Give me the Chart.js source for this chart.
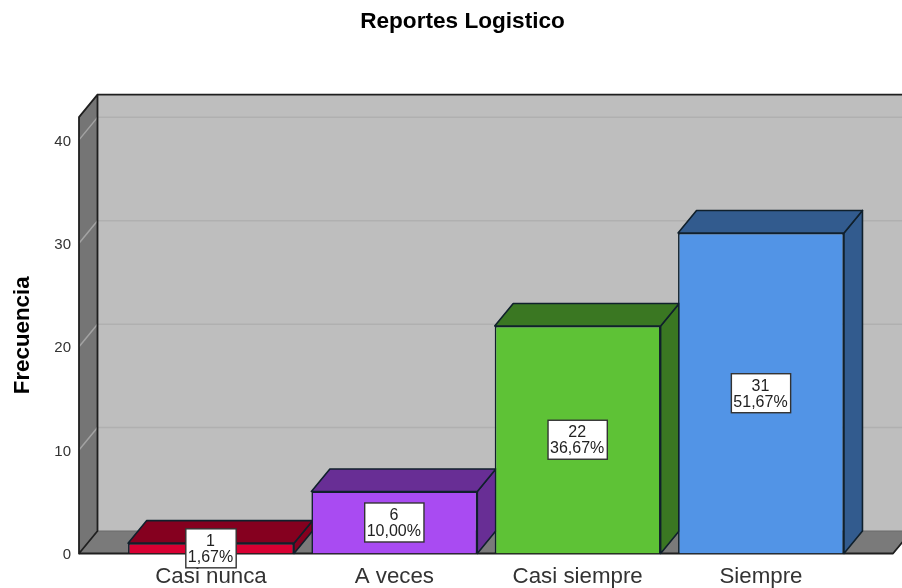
<!DOCTYPE html>
<html>
<head>
<meta charset="utf-8">
<style>
  html, body { margin: 0; padding: 0; background: #fff; }
  #wrap { position: relative; width: 902px; height: 588px; overflow: hidden; }
</style>
<script src="https://cdn.jsdelivr.net/npm/chart.js@4"></script>
</head>
<body>
<div id="wrap"><canvas id="myChart" width="902" height="588"></canvas></div>
<script>
const chartTitle = "Reportes Logistico";
const yAxisTitle = "Frecuencia";
const categories = ["Casi nunca", "A veces", "Casi siempre", "Siempre"];
const counts = [1, 6, 22, 31];
const percents = ["1,67%", "10,00%", "36,67%", "51,67%"];
const yTicks = [0, 10, 20, 30, 40];
const frontColors = ["#d80032", "#a94bf2", "#5ec236", "#5294e6"];
const darkColors = ["#85001f", "#682e95", "#3a7722", "#325b8e"];

const fontName = "'Liberation Sans', Arial, sans-serif";

// how far the back wall sits behind the front of the box
const depthX = 18.5;
const depthY = 22.5;

function poly(ctx, pts, fill, stroke, width) {
  ctx.beginPath();
  pts.forEach((p, i) => (i ? ctx.lineTo(p[0], p[1]) : ctx.moveTo(p[0], p[1])));
  ctx.closePath();
  if (fill) {
    ctx.fillStyle = fill;
    ctx.fill();
  }
  if (stroke) {
    ctx.strokeStyle = stroke;
    ctx.lineWidth = width || 1.5;
    ctx.stroke();
  }
}

const box3d = {
  id: "box3d",
  // the reference title sits right of the canvas centre
  afterLayout(chart) {
    chart.titleBlock.left += 16;
    chart.titleBlock.right += 16;
  },
  // walls, floor and the top and side of each bar go under the fronts
  beforeDatasetsDraw(chart) {
    const ctx = chart.ctx;
    const y = chart.scales.y;
    const a = chart.chartArea;
    const line = "#1f1f1f";
    ctx.save();
    ctx.lineJoin = "round";
    poly(ctx, [[a.left + depthX, a.top - depthY], [a.right + depthX, a.top - depthY], [a.right + depthX, a.bottom - depthY], [a.left + depthX, a.bottom - depthY]], "#bebebe");
    poly(ctx, [[a.left, a.bottom], [a.left + depthX, a.bottom - depthY], [a.right + depthX, a.bottom - depthY], [a.right, a.bottom]], "#7a7a7a", "#6a6a6a", 1);
    poly(ctx, [[a.left, a.top], [a.left + depthX, a.top - depthY], [a.left + depthX, a.bottom - depthY], [a.left, a.bottom]], "#757575");
    yTicks.slice(1).forEach((t) => {
      const py = y.getPixelForValue(t);
      ctx.lineWidth = 1.5;
      ctx.beginPath();
      ctx.moveTo(a.left, py);
      ctx.lineTo(a.left + depthX, py - depthY);
      ctx.strokeStyle = "#a3a3a3";
      ctx.stroke();
      ctx.beginPath();
      ctx.moveTo(a.left + depthX, py - depthY);
      ctx.lineTo(a.right + depthX, py - depthY);
      ctx.strokeStyle = "#b0b0b0";
      ctx.stroke();
    });
    ctx.beginPath();
    ctx.moveTo(a.left, a.bottom);
    ctx.lineTo(a.left + depthX, a.bottom - depthY);
    ctx.strokeStyle = "#a3a3a3";
    ctx.lineWidth = 1;
    ctx.stroke();
    poly(ctx, [[a.left, a.top], [a.left + depthX, a.top - depthY], [a.left + depthX, a.bottom - depthY], [a.left, a.bottom]], null, line, 1.8);
    ctx.beginPath();
    ctx.moveTo(a.left + depthX, a.top - depthY);
    ctx.lineTo(a.right + depthX, a.top - depthY);
    ctx.strokeStyle = line;
    ctx.lineWidth = 1.8;
    ctx.stroke();
    ctx.beginPath();
    ctx.moveTo(a.left, a.bottom);
    ctx.lineTo(a.right, a.bottom);
    ctx.lineTo(a.right + depthX, a.bottom - depthY);
    ctx.stroke();
    chart.getDatasetMeta(0).data.forEach((bar, i) => {
      const half = bar.width / 2;
      const l = bar.x - half;
      const r = bar.x + half;
      const t = bar.y;
      const b = bar.base;
      poly(ctx, [[r, t], [r + depthX, t - depthY], [r + depthX, b - depthY], [r, b]], darkColors[i], "#10202c", 1.6);
      poly(ctx, [[l, t], [l + depthX, t - depthY], [r + depthX, t - depthY], [r, t]], darkColors[i], "#10202c", 1.6);
    });
    ctx.restore();
  },
  // white count boxes in the middle of the fronts
  afterDatasetsDraw(chart) {
    const ctx = chart.ctx;
    ctx.save();
    ctx.font = "16px " + fontName;
    ctx.textAlign = "center";
    ctx.textBaseline = "middle";
    chart.getDatasetMeta(0).data.forEach((bar, i) => {
      const mid = (bar.y + bar.base) / 2;
      const w = ctx.measureText(percents[i]).width + 5;
      ctx.fillStyle = "#fff";
      ctx.fillRect(bar.x - w / 2, mid - 19.5, w, 39);
      ctx.strokeStyle = "#333";
      ctx.lineWidth = 1.4;
      ctx.strokeRect(bar.x - w / 2, mid - 19.5, w, 39);
      ctx.fillStyle = "#222";
      ctx.fillText(String(counts[i]), bar.x - 0.5, mid - 7);
      ctx.fillText(percents[i], bar.x - 0.5, mid + 9);
    });
    ctx.restore();
  },
};

const myChart = document.getElementById("myChart").getContext("2d");
const myGraph = new Chart(myChart, {
  type: "bar",
  plugins: [box3d],
  data: {
    datasets: [
      {
        data: counts.map((c, i) => ({ x: i, y: c })),
        backgroundColor: frontColors,
        borderColor: "#10202c",
        borderWidth: 1.6,
        barPercentage: 0.905,
        categoryPercentage: 1,
      },
    ],
  },
  options: {
    responsive: false,
    animation: false,
    layout: { padding: { left: 0, right: 9, top: 0, bottom: 0 } },
    plugins: {
      legend: { display: false },
      tooltip: { enabled: false },
      title: {
        display: true,
        text: chartTitle,
        color: "#000",
        font: { family: fontName, size: 22.6, weight: "bold" },
        padding: { top: 8.5, bottom: 81.5 },
      },
    },
    scales: {
      x: {
        type: "linear",
        offset: false,
        min: -0.72,
        max: 3.72,
        grid: { display: false },
        border: { display: false },
        afterBuildTicks(axis) {
          axis.ticks = categories.map((c, i) => ({ value: i }));
        },
        afterFit(axis) {
          axis.height = 34.5;
        },
        ticks: {
          autoSkip: false,
          maxRotation: 0,
          color: "#333",
          padding: 1.5,
          font: { family: fontName, size: 22.3 },
          callback: (v) => categories[v],
        },
      },
      y: {
        min: 0,
        max: 42.2,
        grid: { display: false },
        border: { display: false },
        afterBuildTicks(axis) {
          axis.ticks = yTicks.map((t) => ({ value: t }));
        },
        afterFit(axis) {
          axis.width = 79;
        },
        ticks: {
          color: "#333",
          padding: 0,
          labelOffset: 1.5,
          font: { family: fontName, size: 15 },
        },
        title: {
          display: true,
          text: yAxisTitle,
          color: "#000",
          font: { family: fontName, size: 22.3, weight: "bold" },
          padding: { top: 9.5, bottom: 0 },
        },
      },
    },
  },
});
</script>
</body>
</html>
